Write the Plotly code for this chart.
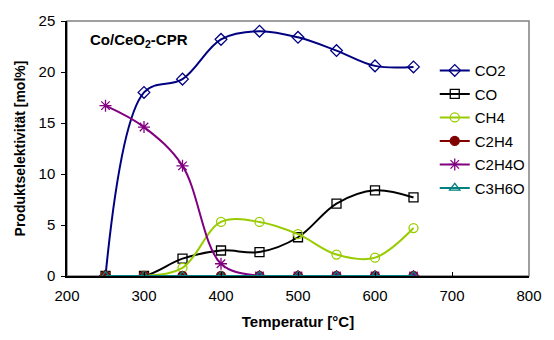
import plotly.graph_objects as go

temps = [250, 300, 350, 400, 450, 500, 550, 600, 650]
co2 = [0.0, 18.0, 19.3, 23.2, 24.0, 23.4, 22.1, 20.6, 20.5]
co = [0.0, 0.0, 1.7, 2.5, 2.35, 3.8, 7.1, 8.4, 7.7]
ch4 = [0.0, 0.0, 0.8, 5.3, 5.3, 4.1, 2.1, 1.8, 4.7]
c2h4 = [0.0, 0.0, 0.0, 0.0, 0.0, 0.0, 0.0, 0.0, 0.0]
c2h4o = [16.7, 14.6, 10.8, 1.2, 0.0, 0.0, 0.0, 0.0, 0.0]
c3h6o = [0.0, 0.0, 0.0, 0.0, 0.0, 0.0, 0.0, 0.0, 0.0]

series = [
    ("CO2", co2, "#000080", "diamond-open", 9),
    ("CO", co, "#000000", "square-open", 9),
    ("CH4", ch4, "#99CC00", "circle-open", 9),
    ("C2H4", c2h4, "#800000", "circle", 9),
    ("C2H4O", c2h4o, "#800080", "asterisk-open", 10),
    ("C3H6O", c3h6o, "#008080", "triangle-up-open", 9),
]

fig = go.Figure()
for name, vals, color, sym, size in series:
    fig.add_trace(go.Scatter(
        x=temps, y=vals, name=name, mode="lines+markers",
        line=dict(color=color, width=2, shape="spline", smoothing=1),
        marker=dict(symbol=sym, size=size, color=color,
                    line=dict(color=color, width=1.3)),
        legendgroup=name,
    ))

fig.add_shape(type="rect", xref="paper", yref="paper", x0=0, y0=0, x1=1, y1=1,
              line=dict(color="#808080", width=1.5), layer="below")

fig.add_annotation(x=0.045, y=0.925, xref="paper", yref="paper",
                   text="<b>Co/CeO<sub>2</sub>-CPR</b>", showarrow=False,
                   xanchor="left", yanchor="middle",
                   font=dict(family="Liberation Sans, Arial", size=15, color="black"))

fig.update_layout(
    width=554, height=340,
    margin=dict(l=67, r=20, t=19, b=63),
    paper_bgcolor="white", plot_bgcolor="white",
    font=dict(family="Liberation Sans, Arial", size=15, color="black"),
    showlegend=True,
    legend=dict(x=0.796, y=0.87, xanchor="left", yanchor="top",
                bgcolor="rgba(0,0,0,0)", font=dict(size=15),
                traceorder="grouped", tracegroupgap=1, itemwidth=30),
    xaxis=dict(range=[200, 800], dtick=100, showgrid=False, zeroline=False,
               showline=True, linecolor="black", linewidth=1.5,
               ticks="inside", ticklen=4, tickcolor="black",
               tickfont=dict(size=15), ticklabelstandoff=5,
               title=dict(text="<b>Temperatur [°C]</b>", standoff=14,
                          font=dict(size=15))),
    yaxis=dict(range=[0, 25], dtick=5, showgrid=False, zeroline=False,
               showline=True, linecolor="black", linewidth=1.5,
               ticks="outside", ticklen=4, tickcolor="black",
               tickfont=dict(size=15), ticklabelstandoff=3,
               title=dict(text="<b>Produktselektivität [mol%]</b>", standoff=10,
                          font=dict(size=14))),
)

fig.write_html("out.html")
